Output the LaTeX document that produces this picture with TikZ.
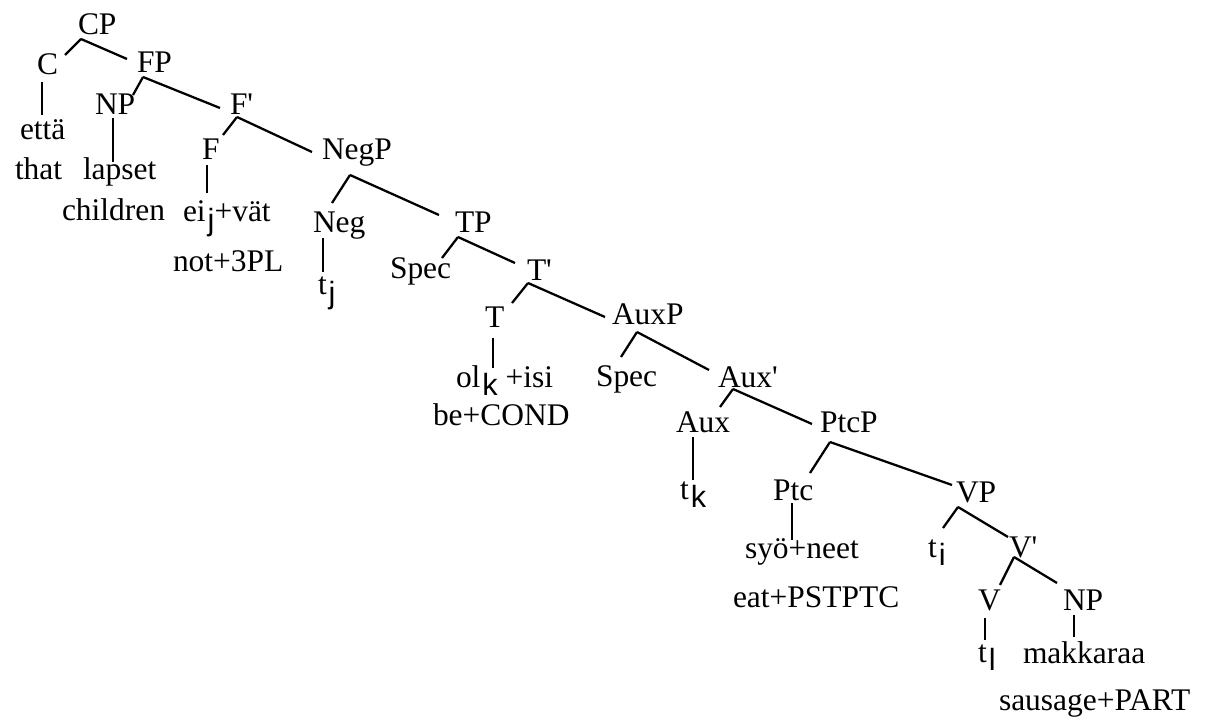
\documentclass[tikz,border=0pt]{standalone}
\usepackage{fontspec}
\setmainfont{Liberation Serif}
\newfontfamily\subsans{Liberation Sans}
\newcommand\sbs[1]{\kern1.5pt\raisebox{-6.5pt}{\fontsize{23}{26}\subsans #1}}
\newcommand\prm{\textquotesingle}
\newcommand\edgeline[6]{\draw ([shift={(#2,#3)}]#1.base west) -- ([shift={(#5,#6)}]#4.base west);}
\begin{document}
\begin{tikzpicture}[x=0.75pt,y=-0.75pt,
  lbl/.style={inner sep=0pt,outer sep=0pt,anchor=base west,font=\fontsize{23.6}{28}\selectfont},
  every path/.style={line width=1.7pt,line cap=butt}]
\useasboundingbox (0,0) rectangle (1206,720);
% nodes
\node[lbl] (CP) at (78,35) {CP};
\node[lbl] (C) at (37,75) {C};
\node[lbl] (FP) at (137,73) {FP};
\node[lbl] (NP) at (95,115) {NP};
\node[lbl] (Fp) at (230,115) {F\prm};
\node[lbl] (F) at (202,160) {F};
\node[lbl] (NegP) at (322,160) {NegP};
\node[lbl] (etta) at (20,140) {että};
\node[lbl] (that) at (15,180) {that};
\node[lbl] (lapset) at (83,180) {lapset};
\node[lbl] (children) at (62,221) {children};
\node[lbl] (ei) at (183,222) {ei\sbs{j}+vät};
\node[lbl] (not) at (173,272) {not+3PL};
\node[lbl] (Neg) at (313,233) {Neg};
\node[lbl] (tj) at (318,295) {t\sbs{j}};
\node[lbl] (TP) at (455,233) {TP};
\node[lbl] (SpecT) at (390,279) {Spec};
\node[lbl] (Tp) at (527,281) {T\prm};
\node[lbl] (T) at (485,327) {T};
\node[lbl] (AuxP) at (612,325) {AuxP};
\node[lbl] (ol) at (456,387) {ol\sbs{k} +isi};
\node[lbl] (be) at (433,425) {be+COND};
\node[lbl] (SpecA) at (596,386) {Spec};
\node[lbl] (Auxp) at (718,387) {Aux\prm};
\node[lbl] (Aux) at (676,432) {Aux};
\node[lbl] (PtcP) at (820,432) {PtcP};
\node[lbl] (tk) at (680,499) {t\sbs{k}};
\node[lbl] (Ptc) at (773,500) {Ptc};
\node[lbl] (VP) at (956,502) {VP};
\node[lbl] (syo) at (745,558) {syö+neet};
\node[lbl] (ti) at (928,557) {t\sbs{i}};
\node[lbl] (Vp) at (1009,557) {V\prm};
\node[lbl] (eat) at (733,607) {eat+PSTPTC};
\node[lbl] (V) at (978,610) {V};
\node[lbl] (NPb) at (1063,610) {NP};
\node[lbl] (tl) at (978,662) {t\sbs{l}};
\node[lbl] (mak) at (1023,663) {makkaraa};
\node[lbl] (saus) at (999,710) {sausage+PART};
% connectors
\edgeline{CP}{3}{4}{C}{28}{-20}
\edgeline{CP}{3}{4}{FP}{-10}{-14}
\edgeline{C}{5}{7}{etta}{22}{-25}
\edgeline{FP}{6}{4}{NP}{38}{-20}
\edgeline{FP}{6}{4}{Fp}{-10}{-7}
\edgeline{NP}{18}{3}{lapset}{30}{-18}
\edgeline{Fp}{7}{2}{F}{21}{-25}
\edgeline{Fp}{7}{2}{NegP}{-10}{-8}
\edgeline{F}{5}{5}{ei}{24}{-29}
\edgeline{NegP}{28}{15}{Neg}{19}{-30}
\edgeline{NegP}{28}{15}{TP}{-16}{-18}
\edgeline{Neg}{10}{5}{tj}{5}{-23}
\edgeline{TP}{3}{4}{SpecT}{52}{-21}
\edgeline{TP}{3}{4}{Tp}{-12}{-18}
\edgeline{Tp}{1}{2}{T}{27}{-24}
\edgeline{Tp}{1}{2}{AuxP}{-7}{-8}
\edgeline{T}{8}{11}{ol}{37}{-19}
\edgeline{AuxP}{25}{7}{SpecA}{25}{-29}
\edgeline{AuxP}{25}{7}{Auxp}{-9}{-17}
\edgeline{Auxp}{15}{2}{Aux}{44}{-25}
\edgeline{Auxp}{15}{2}{PtcP}{-8}{-8}
\edgeline{Aux}{17}{5}{tk}{13}{-19}
\edgeline{PtcP}{10}{10}{Ptc}{37}{-27}
\edgeline{PtcP}{10}{10}{VP}{-4}{-17}
\edgeline{Ptc}{19}{3}{syo}{47}{-18}
\edgeline{VP}{2}{5}{ti}{15}{-29}
\edgeline{VP}{2}{5}{Vp}{-1}{-20}
\edgeline{Vp}{5}{0}{V}{22}{-25}
\edgeline{Vp}{5}{0}{NPb}{-6}{-27}
\edgeline{V}{7}{8}{tl}{7}{-22}
\edgeline{NPb}{11}{5}{mak}{51}{-26}
\end{tikzpicture}
\end{document}
